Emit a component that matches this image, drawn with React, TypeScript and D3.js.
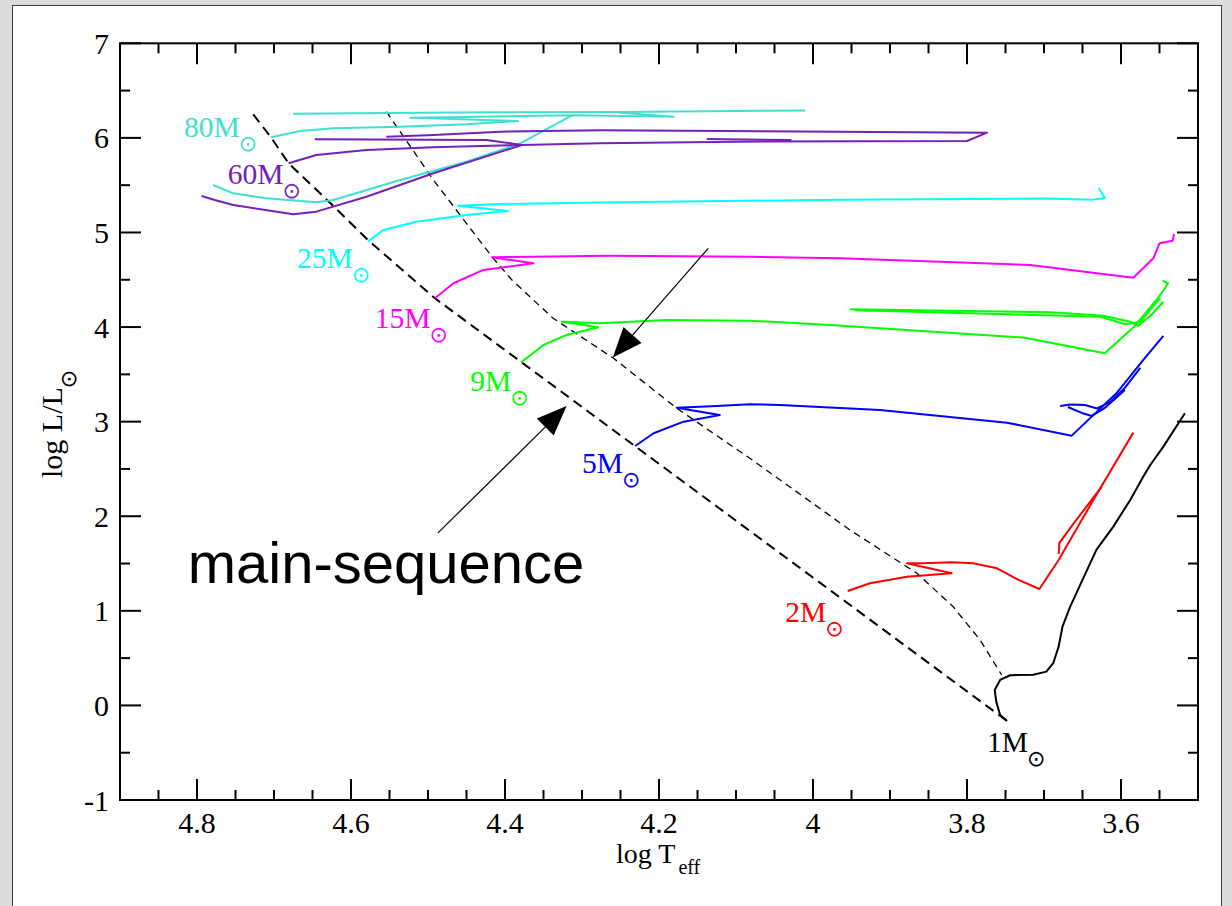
import React from "react";
import * as d3 from "d3";

type Pt = [number, number]; // [log Teff, log L/Lsun]

// ---- axis ticks ----
const xMajorTicks = [4.8, 4.6, 4.4, 4.2, 4.0, 3.8, 3.6];
const xTickLabels = ["4.8", "4.6", "4.4", "4.2", "4", "3.8", "3.6"];
const yMajorTicks = [-1, 0, 1, 2, 3, 4, 5, 6, 7];
const yTickLabels = ["-1", "0", "1", "2", "3", "4", "5", "6", "7"];

// ---- zero-age and terminal-age main sequence ----
const zams: Pt[] = [
  [4.727, 6.249], [4.704, 6.006], [4.681, 5.731], [4.627, 5.312],
  [4.578, 4.921], [4.491, 4.304], [3.748, -0.164],
];
const tams: Pt[] = [
  [4.554, 6.277], [4.493, 5.555], [4.417, 4.744], [4.391, 4.498],
  [4.338, 4.096], [4.259, 3.670], [4.177, 3.142], [4.082, 2.613],
  [3.952, 1.855], [3.865, 1.397], [3.818, 1.044], [3.783, 0.692],
  [3.755, 0.322],
];

// ---- evolutionary tracks ----
const track80Main: Pt[] = [
  [4.704, 6.006], [4.666, 6.073], [4.623, 6.101], [4.536, 6.118],
  [4.450, 6.144], [4.383, 6.179], [4.523, 6.214], [4.313, 6.239],
  [4.181, 6.224], [4.253, 6.268],
];
const track80Top: Pt[] = [[4.675, 6.256], [4.471, 6.268], [4.253, 6.274], [4.010, 6.290]];
const track80Return: Pt[] = [
  [4.313, 6.239], [4.379, 5.946], [4.450, 5.748], [4.536, 5.555],
  [4.623, 5.344], [4.645, 5.319], [4.710, 5.362], [4.753, 5.414],
  [4.779, 5.502],
];

const track60Main: Pt[] = [
  [4.681, 5.731], [4.645, 5.819], [4.580, 5.872], [4.493, 5.901],
  [4.378, 5.925], [4.277, 5.943], [4.069, 5.962], [3.800, 5.967],
  [3.774, 6.055], [4.017, 6.068], [4.277, 6.081], [4.406, 6.066],
  [4.493, 6.031], [4.554, 6.013],
];
const track60Loop: Pt[] = [
  [4.647, 5.985], [4.424, 5.978], [4.378, 5.925], [4.493, 5.626],
  [4.580, 5.378], [4.645, 5.220], [4.675, 5.192], [4.753, 5.291],
  [4.777, 5.344], [4.794, 5.386],
];
const track60Short: Pt[] = [[4.138, 5.988], [4.028, 5.978]];

const track25: Pt[] = [
  [4.578, 4.903], [4.558, 5.026], [4.515, 5.114], [4.450, 5.185],
  [4.396, 5.227], [4.461, 5.283], [4.406, 5.301], [4.277, 5.317],
  [3.965, 5.346], [3.696, 5.359], [3.638, 5.347], [3.621, 5.365],
  [3.629, 5.470],
];

const track15: Pt[] = [
  [4.491, 4.304], [4.467, 4.463], [4.428, 4.604], [4.363, 4.674],
  [4.417, 4.738], [4.363, 4.744], [4.264, 4.755], [4.082, 4.744],
  [3.965, 4.728], [3.718, 4.657], [3.584, 4.522], [3.558, 4.727],
  [3.550, 4.886], [3.533, 4.913], [3.531, 4.984],
];

const track9: Pt[] = [
  [4.379, 3.628], [4.350, 3.811], [4.320, 3.916], [4.279, 3.998],
  [4.326, 4.057], [4.277, 4.040], [4.190, 4.075], [4.082, 4.068],
  [3.978, 4.022], [3.725, 3.888], [3.621, 3.723], [3.582, 4.012],
  [3.554, 4.286], [3.543, 4.410], [3.539, 4.463], [3.546, 4.490],
];
const track9LoopA: Pt[] = [
  [3.952, 4.188], [3.692, 4.156], [3.623, 4.120], [3.588, 4.057],
  [3.578, 4.012], [3.562, 4.117], [3.545, 4.268],
];
const track9LoopB: Pt[] = [
  [3.945, 4.178], [3.627, 4.109], [3.595, 4.033], [3.575, 4.054], [3.549, 4.308],
];

const track5: Pt[] = [
  [4.231, 2.743], [4.207, 2.877], [4.168, 3.000], [4.121, 3.071],
  [4.177, 3.148], [4.125, 3.166], [4.082, 3.184], [4.043, 3.176],
  [3.913, 3.124], [3.748, 2.989], [3.664, 2.852], [3.638, 3.053],
  [3.606, 3.300], [3.571, 3.652], [3.545, 3.906],
];
const track5LoopA: Pt[] = [
  [3.679, 3.166], [3.666, 3.182], [3.647, 3.176], [3.631, 3.139],
  [3.614, 3.208], [3.595, 3.356], [3.575, 3.568],
];
const track5LoopB: Pt[] = [
  [3.669, 3.155], [3.651, 3.092], [3.638, 3.060], [3.621, 3.145], [3.595, 3.335],
];

const track2: Pt[] = [
  [3.955, 1.210], [3.926, 1.292], [3.878, 1.361], [3.820, 1.397],
  [3.878, 1.503], [3.857, 1.503], [3.820, 1.514], [3.792, 1.503],
  [3.761, 1.450], [3.733, 1.327], [3.706, 1.231], [3.681, 1.538],
  [3.636, 2.172], [3.584, 2.884],
];
const track2Loop: Pt[] = [[3.625, 2.313], [3.660, 1.940], [3.680, 1.718], [3.681, 1.601]];

const track1: Pt[] = [
  [3.748, -0.164], [3.757, -0.101], [3.762, 0.040], [3.764, 0.164],
  [3.757, 0.269], [3.744, 0.319], [3.714, 0.325], [3.697, 0.357],
  [3.688, 0.446], [3.681, 0.621], [3.676, 0.833], [3.666, 1.044],
  [3.653, 1.274], [3.632, 1.644], [3.610, 1.890], [3.588, 2.172],
  [3.571, 2.419], [3.562, 2.542], [3.545, 2.736], [3.517, 3.089],
];

// ---- mass labels: [log Teff, log L] of text anchor ----
const massNames = ["80", "60", "25", "15", "9", "5", "2", "1"];
const massLabelPos: Pt[] = [
  [4.817, 6.009], [4.760, 5.513], [4.670, 4.625], [4.569, 3.990],
  [4.445, 3.324], [4.300, 2.455], [4.036, 0.886], [3.774, -0.497],
];

// ---- arrows pointing at the two main-sequence boundaries ----
const arrowFrom: Pt[] = [[4.136, 4.833], [4.487, 1.824]];
const arrowTo: Pt[] = [[4.260, 3.677], [4.320, 3.166]];
const msTextPos: Pt = [4.812, 1.295];

const C80 = "#40E0D0";
const C60 = "#7221BC";
const C25 = "#00FFFF";
const C15 = "#FF00FF";
const C9 = "#00FF00";
const C5 = "#0000FF";
const C2 = "#FF0000";
const C1 = "#000000";
const massColors = [C80, C60, C25, C15, C9, C5, C2, C1];

const tracks: { pts: Pt[]; color: string }[] = [
  { pts: track80Top, color: C80 },
  { pts: track80Main, color: C80 },
  { pts: track80Return, color: C80 },
  { pts: track60Main, color: C60 },
  { pts: track60Loop, color: C60 },
  { pts: track60Short, color: C60 },
  { pts: track25, color: C25 },
  { pts: track15, color: C15 },
  { pts: track9, color: C9 },
  { pts: track9LoopA, color: C9 },
  { pts: track9LoopB, color: C9 },
  { pts: track5, color: C5 },
  { pts: track5LoopA, color: C5 },
  { pts: track5LoopB, color: C5 },
  { pts: track2, color: C2 },
  { pts: track2Loop, color: C2 },
  { pts: track1, color: C1 },
];

const SERIF = "'Liberation Serif', 'Times New Roman', serif";
const SUN = "'DejaVu Sans', sans-serif";

export default function App() {
  const W = 1232;
  const H = 906;
  const left = 120, right = 1198, top = 43.3, bottom = 800;
  const x = d3.scaleLinear().domain([4.9, 3.5]).range([left, right]);
  const y = d3.scaleLinear().domain([-1, 7]).range([bottom, top]);
  const line = d3.line<Pt>().x((d) => x(d[0])).y((d) => y(d[1]));

  const xMinor = d3.range(0, 27).map((i) => 4.85 - i * 0.05)
    .filter((v) => !xMajorTicks.some((m) => Math.abs(m - v) < 1e-6));
  const yMinor = d3.range(-0.5, 7, 1);
  const MAJ = 21, MIN = 10;

  const arrowHeads = arrowFrom.map((f, i) => {
    const t = arrowTo[i];
    const fx = x(f[0]), fy = y(f[1]), tx = x(t[0]), ty = y(t[1]);
    const len = Math.hypot(tx - fx, ty - fy);
    const ux = (tx - fx) / len, uy = (ty - fy) / len;
    const bx = tx - ux * 30, by = ty - uy * 30;
    const px = -uy * 12, py = ux * 12;
    return {
      line: [fx, fy, bx + ux * 2, by + uy * 2],
      poly: `${tx},${ty} ${bx + px},${by + py} ${bx - px},${by - py}`,
    };
  });

  return (
    <svg
      width={W}
      height={H}
      style={{ position: "absolute", left: 0, top: 0, display: "block" }}
    >
      <rect x={0} y={0} width={W} height={H} fill="#dcdcdc" />
      <rect x={12.5} y={5.5} width={1209} height={H} fill="#ffffff" stroke="#404040" strokeWidth={1} />

      {/* boundaries of the main-sequence band */}
      <path d={line(zams) ?? ""} fill="none" stroke="#000" strokeWidth={2} strokeDasharray="10,6" />
      <path d={line(tams) ?? ""} fill="none" stroke="#000" strokeWidth={1.3} strokeDasharray="7,5" />

      {/* evolutionary tracks */}
      {tracks.map((t, i) => (
        <path
          key={i}
          d={line(t.pts) ?? ""}
          fill="none"
          stroke={t.color}
          strokeWidth={2}
          strokeLinejoin="round"
        />
      ))}

      {/* arrows */}
      {arrowHeads.map((a, i) => (
        <g key={i}>
          <line x1={a.line[0]} y1={a.line[1]} x2={a.line[2]} y2={a.line[3]} stroke="#000" strokeWidth={1.2} />
          <polygon points={a.poly} fill="#000" />
        </g>
      ))}
      <text
        x={x(msTextPos[0])}
        y={y(msTextPos[1])}
        fontFamily="'Liberation Sans', Arial, sans-serif"
        fontSize={58}
        fill="#000"
      >
        main-sequence
      </text>

      {/* mass labels */}
      {massNames.map((m, i) => (
        <text
          key={m}
          x={x(massLabelPos[i][0])}
          y={y(massLabelPos[i][1])}
          fontFamily={SERIF}
          fontSize={29.5}
          fill={massColors[i]}
        >
          {m}M
          <tspan dx={-1} dy={14} fontFamily={SUN} fontSize={22}>
            ⊙
          </tspan>
        </text>
      ))}

      {/* axes frame */}
      <rect x={left} y={top} width={right - left} height={bottom - top} fill="none" stroke="#000" strokeWidth={2} />
      {xMajorTicks.map((v) => (
        <g key={"xM" + v}>
          <line x1={x(v)} x2={x(v)} y1={bottom} y2={bottom - MAJ} stroke="#000" strokeWidth={2} />
          <line x1={x(v)} x2={x(v)} y1={top} y2={top + MAJ} stroke="#000" strokeWidth={2} />
        </g>
      ))}
      {xMinor.map((v) => (
        <g key={"xm" + v}>
          <line x1={x(v)} x2={x(v)} y1={bottom} y2={bottom - MIN} stroke="#000" strokeWidth={2} />
          <line x1={x(v)} x2={x(v)} y1={top} y2={top + MIN} stroke="#000" strokeWidth={2} />
        </g>
      ))}
      {yMajorTicks.map((v) => (
        <g key={"yM" + v}>
          <line x1={left} x2={left + MAJ} y1={y(v)} y2={y(v)} stroke="#000" strokeWidth={2} />
          <line x1={right} x2={right - MAJ} y1={y(v)} y2={y(v)} stroke="#000" strokeWidth={2} />
        </g>
      ))}
      {yMinor.map((v) => (
        <g key={"ym" + v}>
          <line x1={left} x2={left + MIN} y1={y(v)} y2={y(v)} stroke="#000" strokeWidth={2} />
          <line x1={right} x2={right - MIN} y1={y(v)} y2={y(v)} stroke="#000" strokeWidth={2} />
        </g>
      ))}

      {/* tick labels */}
      {xMajorTicks.map((v, i) => (
        <text key={"xl" + v} x={x(v)} y={bottom + 33} textAnchor="middle" fontFamily={SERIF} fontSize={30} fill="#000">
          {xTickLabels[i]}
        </text>
      ))}
      {yMajorTicks.map((v, i) => (
        <text key={"yl" + v} x={109} y={y(v) + 10.5} textAnchor="end" fontFamily={SERIF} fontSize={30} fill="#000">
          {yTickLabels[i]}
        </text>
      ))}

      {/* axis titles */}
      <text x={616} y={863} fontFamily={SERIF} fontSize={28} fill="#000">
        log T<tspan dx={3} dy={11} fontSize={20}>eff</tspan>
      </text>
      <text
        transform={`translate(62, 478) rotate(-90)`}
        fontFamily={SERIF}
        fontSize={30}
        fill="#000"
      >
        log L/L
        <tspan dx={-1} dy={14} fontFamily={SUN} fontSize={22}>⊙</tspan>
      </text>
    </svg>
  );
}
